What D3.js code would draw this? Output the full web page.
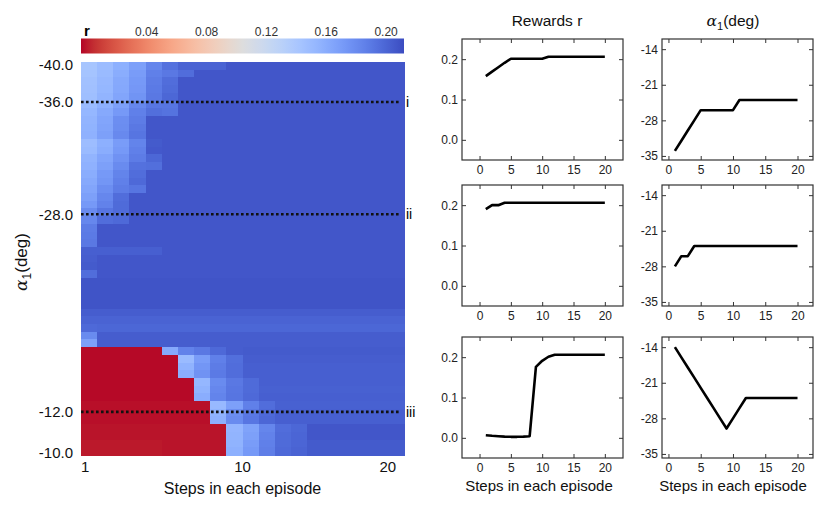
<!DOCTYPE html>
<html>
<head>
<meta charset="utf-8">
<script src="https://cdn.jsdelivr.net/npm/d3@7"></script>
<style>
body { margin: 0; background: #fff; }
svg { display: block; font-family: "Liberation Sans", Arial, sans-serif; }
</style>
</head>
<body>
<script>
// ---- heatmap data: one row per initial alpha_1 (top = -40 deg), 20 steps per row
var steps = [1, 2, 3, 4, 5, 6, 7, 8, 9, 10, 11, 12, 13, 14, 15, 16, 17, 18, 19, 20];
var rewardGrid = [
    [0.142,0.149,0.158,0.168,0.183,0.194,0.201,0.201,0.201,0.207,0.207,0.207,0.207,0.207,0.207,0.207,0.207,0.207,0.207,0.207],
    [0.143,0.150,0.160,0.170,0.186,0.190,0.196,0.207,0.207,0.207,0.207,0.207,0.207,0.207,0.207,0.207,0.207,0.207,0.207,0.207],
    [0.145,0.152,0.162,0.172,0.188,0.196,0.207,0.207,0.207,0.207,0.207,0.207,0.207,0.207,0.207,0.207,0.207,0.207,0.207,0.207],
    [0.146,0.153,0.163,0.173,0.189,0.197,0.207,0.207,0.207,0.207,0.207,0.207,0.207,0.207,0.207,0.207,0.207,0.207,0.207,0.207],
    [0.147,0.155,0.165,0.175,0.190,0.199,0.207,0.207,0.207,0.207,0.207,0.207,0.207,0.207,0.207,0.207,0.207,0.207,0.207,0.207],
    [0.150,0.158,0.168,0.182,0.191,0.192,0.207,0.207,0.207,0.207,0.207,0.207,0.207,0.207,0.207,0.207,0.207,0.207,0.207,0.207],
    [0.153,0.162,0.172,0.186,0.195,0.193,0.207,0.207,0.207,0.207,0.207,0.207,0.207,0.207,0.207,0.207,0.207,0.207,0.207,0.207],
    [0.155,0.165,0.178,0.188,0.207,0.207,0.207,0.207,0.207,0.207,0.207,0.207,0.207,0.207,0.207,0.207,0.207,0.207,0.207,0.207],
    [0.156,0.166,0.179,0.190,0.207,0.207,0.207,0.207,0.207,0.207,0.207,0.207,0.207,0.207,0.207,0.207,0.207,0.207,0.207,0.207],
    [0.157,0.168,0.181,0.192,0.207,0.207,0.207,0.207,0.207,0.207,0.207,0.207,0.207,0.207,0.207,0.207,0.207,0.207,0.207,0.207],
    [0.148,0.158,0.170,0.184,0.205,0.207,0.207,0.207,0.207,0.207,0.207,0.207,0.207,0.207,0.207,0.207,0.207,0.207,0.207,0.207],
    [0.150,0.160,0.172,0.186,0.206,0.207,0.207,0.207,0.207,0.207,0.207,0.207,0.207,0.207,0.207,0.207,0.207,0.207,0.207,0.207],
    [0.155,0.165,0.176,0.188,0.199,0.207,0.207,0.207,0.207,0.207,0.207,0.207,0.207,0.207,0.207,0.207,0.207,0.207,0.207,0.207],
    [0.157,0.168,0.180,0.194,0.195,0.207,0.207,0.207,0.207,0.207,0.207,0.207,0.207,0.207,0.207,0.207,0.207,0.207,0.207,0.207],
    [0.160,0.172,0.184,0.196,0.207,0.207,0.207,0.207,0.207,0.207,0.207,0.207,0.207,0.207,0.207,0.207,0.207,0.207,0.207,0.207],
    [0.162,0.174,0.186,0.198,0.207,0.207,0.207,0.207,0.207,0.207,0.207,0.207,0.207,0.207,0.207,0.207,0.207,0.207,0.207,0.207],
    [0.165,0.178,0.188,0.192,0.207,0.207,0.207,0.207,0.207,0.207,0.207,0.207,0.207,0.207,0.207,0.207,0.207,0.207,0.207,0.207],
    [0.168,0.182,0.196,0.207,0.207,0.207,0.207,0.207,0.207,0.207,0.207,0.207,0.207,0.207,0.207,0.207,0.207,0.207,0.207,0.207],
    [0.172,0.185,0.197,0.207,0.207,0.207,0.207,0.207,0.207,0.207,0.207,0.207,0.207,0.207,0.207,0.207,0.207,0.207,0.207,0.207],
    [0.180,0.192,0.197,0.207,0.207,0.207,0.207,0.207,0.207,0.207,0.207,0.207,0.207,0.207,0.207,0.207,0.207,0.207,0.207,0.207],
    [0.182,0.196,0.198,0.207,0.207,0.207,0.207,0.207,0.207,0.207,0.207,0.207,0.207,0.207,0.207,0.207,0.207,0.207,0.207,0.207],
    [0.188,0.207,0.207,0.207,0.207,0.207,0.207,0.207,0.207,0.207,0.207,0.207,0.207,0.207,0.207,0.207,0.207,0.207,0.207,0.207],
    [0.189,0.207,0.207,0.207,0.207,0.207,0.207,0.207,0.207,0.207,0.207,0.207,0.207,0.207,0.207,0.207,0.207,0.207,0.207,0.207],
    [0.190,0.207,0.207,0.207,0.207,0.207,0.207,0.207,0.207,0.207,0.207,0.207,0.207,0.207,0.207,0.207,0.207,0.207,0.207,0.207],
    [0.203,0.203,0.203,0.203,0.203,0.207,0.207,0.207,0.207,0.207,0.207,0.207,0.207,0.207,0.207,0.207,0.207,0.207,0.207,0.207],
    [0.204,0.207,0.207,0.207,0.207,0.207,0.207,0.207,0.207,0.207,0.207,0.207,0.207,0.207,0.207,0.207,0.207,0.207,0.207,0.207],
    [0.205,0.207,0.207,0.207,0.207,0.207,0.207,0.207,0.207,0.207,0.207,0.207,0.207,0.207,0.207,0.207,0.207,0.207,0.207,0.207],
    [0.196,0.207,0.207,0.207,0.207,0.207,0.207,0.207,0.207,0.207,0.207,0.207,0.207,0.207,0.207,0.207,0.207,0.207,0.207,0.207],
    [0.208,0.208,0.208,0.208,0.208,0.208,0.208,0.208,0.208,0.208,0.208,0.208,0.208,0.208,0.208,0.208,0.208,0.208,0.208,0.208],
    [0.208,0.208,0.208,0.208,0.208,0.208,0.208,0.208,0.208,0.208,0.208,0.208,0.208,0.208,0.208,0.208,0.208,0.208,0.208,0.208],
    [0.208,0.208,0.208,0.208,0.208,0.208,0.208,0.208,0.208,0.208,0.208,0.208,0.208,0.208,0.208,0.208,0.208,0.208,0.208,0.208],
    [0.208,0.208,0.208,0.208,0.208,0.208,0.208,0.208,0.208,0.208,0.208,0.208,0.208,0.208,0.208,0.208,0.208,0.208,0.208,0.208],
    [0.204,0.204,0.204,0.204,0.204,0.204,0.204,0.204,0.204,0.204,0.204,0.204,0.204,0.204,0.204,0.204,0.204,0.204,0.204,0.204],
    [0.201,0.201,0.201,0.201,0.201,0.201,0.201,0.201,0.201,0.201,0.201,0.201,0.201,0.201,0.201,0.201,0.201,0.201,0.201,0.201],
    [0.198,0.199,0.199,0.199,0.199,0.199,0.199,0.199,0.199,0.199,0.199,0.199,0.199,0.199,0.199,0.199,0.199,0.199,0.199,0.199],
    [0.180,0.204,0.204,0.204,0.204,0.204,0.204,0.204,0.204,0.204,0.204,0.204,0.204,0.204,0.204,0.204,0.204,0.204,0.204,0.204],
    [0.168,0.204,0.204,0.204,0.204,0.204,0.204,0.204,0.204,0.204,0.204,0.204,0.204,0.204,0.204,0.204,0.204,0.204,0.204,0.204],
    [-0.003,-0.003,-0.003,-0.003,-0.003,0.162,0.185,0.190,0.198,0.204,0.205,0.205,0.205,0.205,0.205,0.205,0.205,0.205,0.205,0.205],
    [-0.003,-0.003,-0.003,-0.003,-0.003,-0.003,0.150,0.170,0.186,0.195,0.204,0.204,0.204,0.204,0.204,0.204,0.204,0.204,0.204,0.204],
    [-0.003,-0.003,-0.003,-0.003,-0.003,-0.003,0.156,0.174,0.188,0.196,0.203,0.203,0.203,0.203,0.203,0.203,0.203,0.203,0.203,0.203],
    [-0.003,-0.003,-0.003,-0.003,-0.003,-0.003,0.159,0.176,0.189,0.196,0.203,0.203,0.203,0.203,0.203,0.203,0.203,0.203,0.203,0.203],
    [-0.003,-0.003,-0.003,-0.003,-0.003,-0.003,-0.003,0.153,0.180,0.190,0.197,0.203,0.203,0.203,0.203,0.203,0.203,0.203,0.203,0.203],
    [-0.003,-0.003,-0.003,-0.003,-0.003,-0.003,-0.003,0.156,0.182,0.191,0.197,0.202,0.202,0.202,0.202,0.202,0.202,0.202,0.202,0.202],
    [-0.003,-0.003,-0.003,-0.003,-0.003,-0.003,-0.003,0.160,0.184,0.192,0.198,0.203,0.203,0.203,0.203,0.203,0.203,0.203,0.203,0.203],
    [-0.002,-0.002,-0.002,-0.002,-0.002,-0.002,-0.002,-0.002,0.151,0.168,0.186,0.196,0.202,0.202,0.202,0.202,0.202,0.202,0.202,0.202],
    [-0.002,-0.002,-0.002,-0.002,-0.002,-0.002,-0.002,-0.002,0.156,0.178,0.190,0.198,0.203,0.203,0.203,0.203,0.203,0.203,0.203,0.203],
    [-0.002,-0.002,-0.002,-0.002,-0.002,-0.002,-0.002,-0.002,0.158,0.180,0.191,0.199,0.203,0.203,0.203,0.203,0.203,0.203,0.203,0.203],
    [-0.001,-0.001,-0.001,-0.001,-0.001,-0.001,-0.001,-0.001,-0.001,0.154,0.166,0.183,0.196,0.199,0.207,0.207,0.207,0.207,0.207,0.207],
    [-0.001,-0.001,-0.001,-0.001,-0.001,-0.001,-0.001,-0.001,-0.001,0.155,0.168,0.185,0.197,0.200,0.207,0.207,0.207,0.207,0.207,0.207],
    [0.000,0.000,0.000,0.000,0.000,-0.001,-0.001,-0.001,-0.001,0.156,0.170,0.186,0.197,0.200,0.205,0.205,0.205,0.205,0.205,0.205],
    [0.000,0.000,0.000,0.000,0.000,-0.001,-0.001,-0.001,-0.001,0.158,0.172,0.187,0.198,0.201,0.205,0.205,0.205,0.205,0.205,0.205]
];

// alpha_1 tick labels and the (fractional) row where each one sits
var alphaTicks = [-40, -36, -28, -12, -10];
var alphaTickRows = [0.4, 5.2, 19.75, 45.4, 50.7];
var stepTickEdges = [0, 10, 19];
var stepTickLabels = ["1", "10", "20"];
var markedAlpha = [-36, -28, -12];
var markedNames = ["i", "ii", "iii"];
var cbarTicks = [0, 0.04, 0.08, 0.12, 0.16, 0.20];
var cbarLabels = ["r", "0.04", "0.08", "0.12", "0.16", "0.20"];

// ---- episodes for the three marked rows
var rewardsI = [0.158,0.169,0.180,0.191,0.201,0.201,0.201,0.201,0.201,0.201,0.206,0.206,0.206,0.206,0.206,0.206,0.206,0.206,0.206,0.206];
var alphaI = [-34,-32,-30,-28,-26,-26,-26,-26,-26,-26,-24,-24,-24,-24,-24,-24,-24,-24,-24,-24];
var rewardsII = [0.190,0.200,0.200,0.206,0.206,0.206,0.206,0.206,0.206,0.206,0.206,0.206,0.206,0.206,0.206,0.206,0.206,0.206,0.206,0.206];
var alphaII = [-28,-26,-26,-24,-24,-24,-24,-24,-24,-24,-24,-24,-24,-24,-24,-24,-24,-24,-24,-24];
var rewardsIII = [0.0065,0.005,0.004,0.003,0.0025,0.0025,0.003,0.004,0.176,0.191,0.201,0.206,0.206,0.206,0.206,0.206,0.206,0.206,0.206,0.206];
var alphaIII = [-14,-16,-18,-20,-22,-24,-26,-28,-30,-28,-26,-24,-24,-24,-24,-24,-24,-24,-24,-24];

var rewardTicks = [0.0, 0.1, 0.2];
var alphaLineTicks = [-35, -28, -21, -14];
var stepTicks = [0, 5, 10, 15, 20];

// matplotlib coolwarm, sampled at 33 points
var coolwarm = ["#3b4cc0","#445acc","#4d68d7","#5775e1","#6282ea","#6c8ef1","#779af7","#82a5fb",
    "#8db0fe","#98b9ff","#a3c2ff","#aec9fd","#b8d0f9","#c2d5f4","#ccd9ee","#d5dbe6","#dddddd",
    "#e5d8d1","#ecd3c5","#f1ccb9","#f5c4ad","#f7bba0","#f7b194","#f7a687","#f49a7b","#f18d6f",
    "#ec7f63","#e57058","#de604d","#d55042","#cb3e38","#c0282f","#b40426"];

var width = 830, height = 506;
var svg = d3.select('body').append('svg').attr('width', width).attr('height', height);

var cw = d3.scaleLinear()
    .domain(coolwarm.map(function (c, i) { return i / (coolwarm.length - 1); }))
    .range(coolwarm)
    .interpolate(d3.interpolateRgb);
var rRange = [-0.004, 0.212];
var rNorm = d3.scaleLinear().domain(rRange).range([1, 0]).clamp(true);   // reversed: low r = red
function rColor(v) { return cw(rNorm(v)); }

// ---- heatmap
var heatX = d3.scaleLinear().domain([0, steps.length]).range([81, 404]);
var heatY = d3.scaleLinear().domain([0, rewardGrid.length]).range([62, 455]);
var alphaRow = d3.scaleLinear().domain(alphaTicks).range(alphaTickRows);

var heat = svg.append('g').attr('shape-rendering', 'crispEdges');
heat.selectAll('g').data(rewardGrid).enter().append('g')
    .each(function (row, r) {
        d3.select(this).selectAll('rect').data(row).enter().append('rect')
            .attr('x', function (d, c) { return heatX(c); })
            .attr('y', heatY(r))
            .attr('width', function (d, c) { return heatX(c + 1) - heatX(c) + 0.5; })
            .attr('height', heatY(r + 1) - heatY(r) + 0.5)
            .attr('fill', function (d) { return rColor(d); });
    });

// dotted markers for the three episodes
svg.append('g').selectAll('line').data(markedAlpha).enter().append('line')
    .attr('x1', heatX(0)).attr('x2', 400)
    .attr('y1', function (d) { return heatY(alphaRow(d)); })
    .attr('y2', function (d) { return heatY(alphaRow(d)); })
    .attr('stroke', '#111').attr('stroke-width', 2.6)
    .attr('stroke-dasharray', '2.6,2.4');

svg.append('g').selectAll('text').data(markedAlpha).enter().append('text')
    .attr('x', 406)
    .attr('y', function (d) { return heatY(alphaRow(d)); })
    .attr('dy', '0.36em')
    .attr('font-size', 14)
    .text(function (d, i) { return markedNames[i]; });

// heatmap y labels
svg.append('g').selectAll('text').data(alphaTicks).enter().append('text')
    .attr('x', 73)
    .attr('y', function (d) { return heatY(alphaRow(d)); })
    .attr('dy', '0.36em')
    .attr('text-anchor', 'end')
    .attr('font-size', 15)
    .attr('fill', '#111')
    .text(function (d) { return d.toFixed(1); });

// heatmap x labels
svg.append('g').selectAll('text').data(stepTickEdges).enter().append('text')
    .attr('x', function (d) { return heatX(d); })
    .attr('y', 472)
    .attr('text-anchor', function (d, i) { return i == 0 ? 'start' : 'middle'; })
    .attr('font-size', 15)
    .attr('fill', '#111')
    .text(function (d, i) { return stepTickLabels[i]; });

svg.append('text')
    .attr('x', (heatX(0) + heatX(steps.length)) / 2).attr('y', 494)
    .attr('text-anchor', 'middle').attr('font-size', 16).attr('fill', '#111')
    .text('Steps in each episode');

// y title: alpha_1(deg)
var yTitle = svg.append('text')
    .attr('transform', 'translate(27,262) rotate(-90)')
    .attr('text-anchor', 'middle').attr('font-size', 17).attr('fill', '#111');
yTitle.append('tspan').attr('font-family', '"DejaVu Serif", "Liberation Serif", serif').attr('font-style', 'italic').text('α');
yTitle.append('tspan').attr('font-size', 12).attr('dy', 4).text('1');
yTitle.append('tspan').attr('dy', -4).text('(deg)');

// ---- colorbar
var cbarX = d3.scaleLinear().domain(rRange).range([heatX(0), heatX(steps.length)]);
var grad = svg.append('defs').append('linearGradient').attr('id', 'cbar');
grad.selectAll('stop').data(d3.range(0, 1.0001, 0.02)).enter().append('stop')
    .attr('offset', function (d) { return d; })
    .attr('stop-color', function (d) { return rColor(rRange[0] + d * (rRange[1] - rRange[0])); });
svg.append('rect')
    .attr('x', cbarX.range()[0]).attr('y', 38.5)
    .attr('width', cbarX.range()[1] - cbarX.range()[0]).attr('height', 15)
    .attr('fill', 'url(#cbar)');
svg.append('g').selectAll('text').data(cbarTicks).enter().append('text')
    .attr('x', function (d) { return cbarX(d); })
    .attr('y', 36)
    .attr('text-anchor', 'middle')
    .attr('font-size', function (d, i) { return i == 0 ? 15 : 12; })
    .attr('font-weight', function (d, i) { return i == 0 ? 'bold' : 'normal'; })
    .attr('fill', function (d, i) { return i == 0 ? '#000' : '#333'; })
    .text(function (d, i) { return cbarLabels[i]; });

// ---- small line panels
var panelTops = [39, 185, 337];
var panelH = 121;
var rewardSeries = [rewardsI, rewardsII, rewardsIII];
var alphaSeries = [alphaI, alphaII, alphaIII];

function drawPanel(left, right, top, xDom, yDom, yTicks, yFmt, values) {
    var bottom = top + panelH;
    var x = d3.scaleLinear().domain(xDom).range([left, right]);
    var y = d3.scaleLinear().domain(yDom).range([bottom, top]);
    var g = svg.append('g');

    var axes = [
        g.append('g').attr('transform', 'translate(0,' + bottom + ')')
            .call(d3.axisBottom(x).tickValues(stepTicks).tickSize(-4).tickPadding(5)),
        g.append('g').attr('transform', 'translate(0,' + top + ')')
            .call(d3.axisTop(x).tickValues(stepTicks).tickSize(-4).tickFormat('')),
        g.append('g').attr('transform', 'translate(' + left + ',0)')
            .call(d3.axisLeft(y).tickValues(yTicks).tickSize(-4).tickPadding(4).tickFormat(yFmt)),
        g.append('g').attr('transform', 'translate(' + right + ',0)')
            .call(d3.axisRight(y).tickValues(yTicks).tickSize(-4).tickFormat(''))
    ];
    axes.forEach(function (a) {
        a.attr('font-family', null).attr('font-size', 12);
        a.select('.domain').remove();
        a.selectAll('.tick line').attr('stroke', '#333');
        a.selectAll('.tick text').attr('fill', '#222');
    });

    g.append('rect')
        .attr('x', left).attr('y', top)
        .attr('width', right - left).attr('height', panelH)
        .attr('fill', 'none').attr('stroke', '#333').attr('stroke-width', 1.2);

    g.append('path')
        .datum(values)
        .attr('fill', 'none')
        .attr('stroke', '#000')
        .attr('stroke-width', 2.6)
        .attr('stroke-linejoin', 'round')
        .attr('d', d3.line()
            .x(function (d, i) { return x(steps[i]); })
            .y(function (d) { return y(d); }));
}

for (var i = 0; i < 3; i++) {
    drawPanel(462, 623, panelTops[i], [-2.8, 22.9], [-0.05, 0.25], rewardTicks,
        function (d) { return d.toFixed(1); }, rewardSeries[i]);
    drawPanel(662, 813, panelTops[i], [-1, 22.4], [-35.8, -12], alphaLineTicks,
        function (d) { return String(d); }, alphaSeries[i]);
}

// titles and x labels of the panel columns
svg.append('text')
    .attr('x', 547).attr('y', 26)
    .attr('text-anchor', 'middle').attr('font-size', 15.5).attr('fill', '#111')
    .text('Rewards r');

var aTitle = svg.append('text')
    .attr('x', 733).attr('y', 26)
    .attr('text-anchor', 'middle').attr('font-size', 15.5).attr('fill', '#111');
aTitle.append('tspan').attr('font-family', '"DejaVu Serif", "Liberation Serif", serif').attr('font-style', 'italic').text('α');
aTitle.append('tspan').attr('font-size', 11).attr('dy', 4).text('1');
aTitle.append('tspan').attr('dy', -4).text('(deg)');

svg.append('text')
    .attr('x', 539).attr('y', 491)
    .attr('text-anchor', 'middle').attr('font-size', 15).attr('fill', '#111')
    .text('Steps in each episode');
svg.append('text')
    .attr('x', 733).attr('y', 491)
    .attr('text-anchor', 'middle').attr('font-size', 15).attr('fill', '#111')
    .text('Steps in each episode');
</script>
</body>
</html>
